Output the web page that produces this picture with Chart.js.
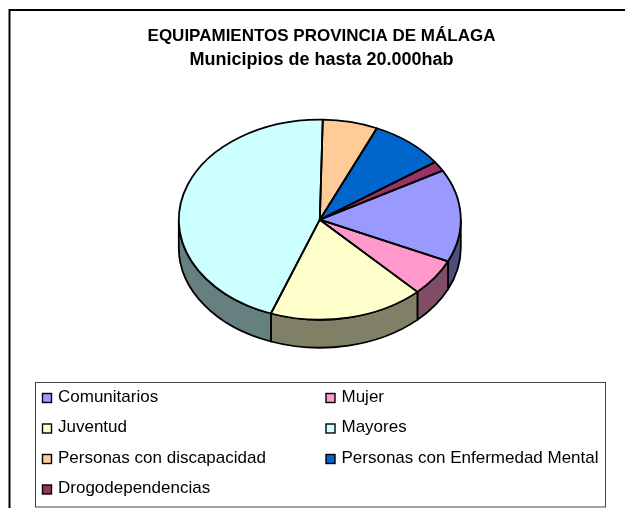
<!DOCTYPE html>
<html><head><meta charset="utf-8">
<style>html,body{margin:0;padding:0;background:#fff}#w{position:relative;width:625px;height:508px;overflow:hidden}</style>
<script src="https://cdn.jsdelivr.net/npm/chart.js@4"></script>
</head><body><div id="w"><canvas id="c" width="625" height="508"></canvas></div>
<script>
const titleText = 'EQUIPAMIENTOS PROVINCIA DE MÁLAGA';
const subtitleText = 'Municipios de hasta 20.000hab';
const categories = ['Comunitarios','Mujer','Juventud','Mayores','Personas con discapacidad','Personas con Enfermedad Mental','Drogodependencias'];
const values = [15.0, 6.0, 17.8, 44.7, 6.3, 8.6, 1.6];
const topColors = ['#9999FF','#FF99CC','#FFFFCC','#CCFFFF','#FFCC99','#0066CC','#993366'];
const wallColors = ['#4D4D80','#804D66','#808066','#668080','#806650','#003366','#4D1A33'];

const FONT = '"Liberation Sans", Arial, sans-serif';
const CX = 319.8, CY = 219.7, RADIUS = 141, SQUASH = 100/141, DEPTH = 28, FIRST_ANGLE = 60.6, OUTLINE = 1.8;

const pie3d = {
  id: 'pie3d',
  beforeDraw(chart){
    const c = chart.ctx;
    c.save(); c.strokeStyle = '#000'; c.lineWidth = 2;
    c.beginPath(); c.moveTo(9.5,508); c.lineTo(9.5,10); c.lineTo(625,10); c.stroke();
    c.restore();
  },
  beforeDatasetDraw(chart){
    const c = chart.ctx, arcs = chart.getDatasetMeta(0).data;
    const rx = arcs[0].outerRadius, ry = rx*SQUASH;
    c.save();
    c.lineWidth = OUTLINE; c.strokeStyle = '#000'; c.lineJoin = 'round';
    arcs.forEach((a,i)=>{
      for(let k=-2;k<=2;k++){
        const lo = Math.max(a.startAngle, 2*Math.PI*k), hi = Math.min(a.endAngle, 2*Math.PI*k+Math.PI);
        if(hi<=lo) continue;
        c.beginPath();
        c.ellipse(CX,CY,rx,ry,0,lo,hi,false);
        c.ellipse(CX,CY+DEPTH,rx,ry,0,hi,lo,true);
        c.closePath();
        c.fillStyle = wallColors[i]; c.fill(); c.stroke();
      }
    });
    c.restore();
    c.save();
    c.translate(CX,CY); c.scale(1,SQUASH); c.translate(-arcs[0].x,-arcs[0].y);
  },
  afterDatasetDraw(chart){
    const c = chart.ctx, arcs = chart.getDatasetMeta(0).data;
    c.restore();
    const rx = arcs[0].outerRadius, ry = rx*SQUASH;
    c.save();
    c.lineWidth = OUTLINE; c.strokeStyle = '#000'; c.lineJoin = 'round';
    arcs.forEach(a=>{
      c.beginPath(); c.moveTo(CX,CY);
      c.ellipse(CX,CY,rx,ry,0,a.startAngle,a.endAngle,false);
      c.closePath(); c.stroke();
    });
    c.restore();
  },
  afterDraw(chart){
    const c = chart.ctx;
    c.save();
    c.strokeStyle = '#444'; c.lineWidth = 1;
    c.strokeRect(35.5,382.5,570,124.5);
    c.font = '17px '+FONT; c.textBaseline = 'middle'; c.textAlign = 'left';
    const rows = [397.5,428,458.5,489], cols = [42,325.5];
    categories.forEach((name,i)=>{
      const col = i%2, row = (i-col)/2;
      const x = cols[col], y = rows[row];
      c.fillStyle = topColors[i]; c.fillRect(x+.5,y-4,9,9);
      c.strokeStyle = '#000'; c.lineWidth = 1.4; c.strokeRect(x+.5,y-4,9,9);
      c.fillStyle = '#000'; c.fillText(name, x+16, y-0.5);
    });
    c.restore();
  }
};

new Chart(document.getElementById('c'),{
  type:'pie',
  data:{labels:categories,datasets:[{data:values,backgroundColor:topColors,borderWidth:0}]},
  plugins:[pie3d],
  options:{
    responsive:false,animation:false,devicePixelRatio:1,rotation:FIRST_ANGLE,radius:RADIUS,
    layout:{padding:{left:38,right:20,top:0,bottom:120}},
    plugins:{
      legend:{display:false},tooltip:{enabled:false},
      title:{display:true,text:titleText,color:'#000',align:'center',
        font:{family:FONT,size:17,weight:'bold',lineHeight:24/17},padding:{top:24,bottom:0}},
      subtitle:{display:true,text:subtitleText,color:'#000',align:'center',
        font:{family:FONT,size:18,weight:'bold',lineHeight:24/18},padding:{top:0,bottom:10}}
    }
  }
});
</script></body></html>
